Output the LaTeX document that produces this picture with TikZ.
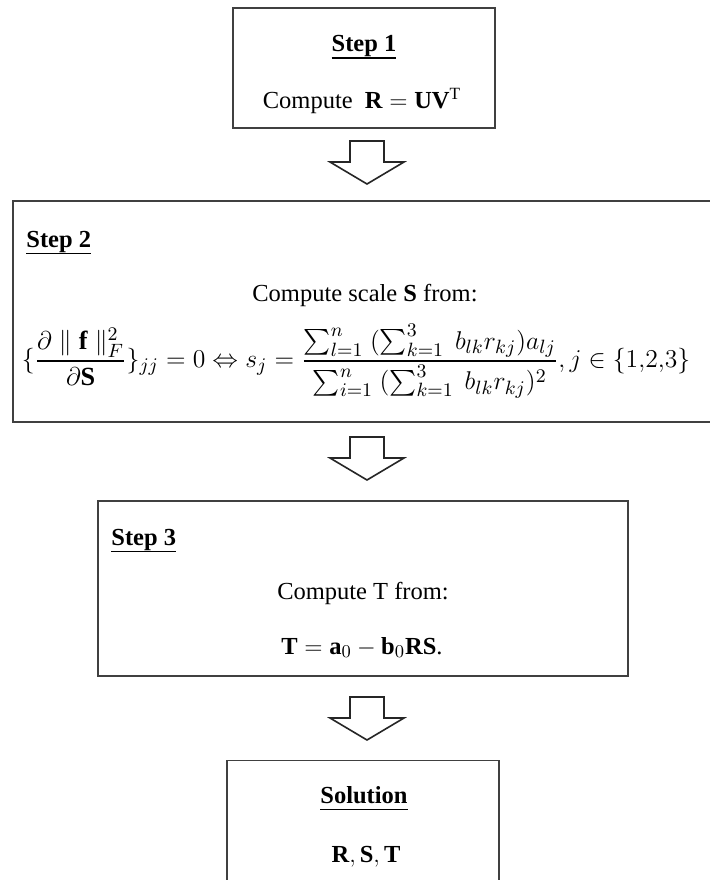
\documentclass[tikz,border=0pt]{standalone}
\usepackage{amsmath}
\usepackage{graphicx}
\usepackage{fontspec}
\setmainfont{Liberation Serif}
\usetikzlibrary{calc}
\newcommand\myul[1]{\setbox0\hbox{#1}\rlap{\rule[-3.7pt]{\wd0}{0.95pt}}\box0}
\tikzset{
  box/.style={draw=black!75, line width=0.8pt, inner sep=0pt},
  txt/.style={inner sep=0pt, font=\fontsize{12.25}{14}\selectfont},
  blockarrow/.style={draw=black!85, line width=0.8pt, fill=white, line join=miter},
  pics/downarr/.style={code={
    \draw[blockarrow] (-17,0) -- (17,0) -- (17,21) -- (37,21) -- (0,43) -- (-37,21) -- (-17,21) -- cycle;}}
}
\begin{document}
\begin{tikzpicture}[x=0.5pt,y=-0.5pt]
\useasboundingbox (0,0) rectangle (710,880);
\clip (0,0) rectangle (710,880);
\fill[white] (0,0) rectangle (710,880);
% boxes
\node[box, minimum width=131pt, minimum height=60pt] (s1) at (364,68) {};
\node[box, minimum width=363.65pt, minimum height=110.5pt] (s2) at (376.35,311.5) {};
\node[box, minimum width=265pt, minimum height=87.5pt] (s3) at (363,588.5) {};
\node[box, minimum width=136pt, minimum height=75pt] (s4) at (363,835.5) {};
% arrows
\pic (a1) at (367,141) {downarr};
\pic (a2) at (367,437) {downarr};
\pic (a3) at (367,697) {downarr};
% texts
\node[txt, anchor=base] (t1a) at (364,51.5) {\myul{\textbf{Step 1}}};
\node[txt, anchor=base] (t1b) at (362,108) {Compute\ \ $\mathbf{R}=\mathbf{U}\mathbf{V}^{\mathrm{T}}$};
\node[txt, anchor=base west] (t2a) at (26,247) {\myul{\textbf{Step 2}}};
\node[txt, anchor=base] (t2b) at (365,301) {Compute scale \textbf{S} from:};
\node[txt, anchor=center] (t2c) at (356,361) {\scalebox{1.07}{$\displaystyle \{\frac{\partial \parallel \mathbf{f} \parallel_F^2}{\partial \mathbf{S}}\}_{jj} = 0 \Leftrightarrow s_j = \frac{\sum\nolimits_{l=1}^{n}\ (\sum\nolimits_{k=1}^{3}\ b_{lk}r_{kj})a_{lj}}{\sum\nolimits_{i=1}^{n}\ (\sum\nolimits_{k=1}^{3}\ b_{lk}r_{kj})^2}, j \in \{1{,}2{,}3\}$}};
\node[txt, anchor=base west] (t3a) at (111,545) {\myul{\textbf{Step 3}}};
\node[txt, anchor=base] (t3b) at (363,599) {Compute T from:};
\node[txt, anchor=base] (t3c) at (362,654) {$\mathbf{T}=\mathbf{a}_0-\mathbf{b}_0\mathbf{RS}$.};
\node[txt, anchor=base] (t4a) at (364,803) {\myul{\textbf{Solution}}};
\node[txt, anchor=base] (t4b) at (366,862) {$\mathbf{R},\mathbf{S},\mathbf{T}$};
\end{tikzpicture}
\end{document}
